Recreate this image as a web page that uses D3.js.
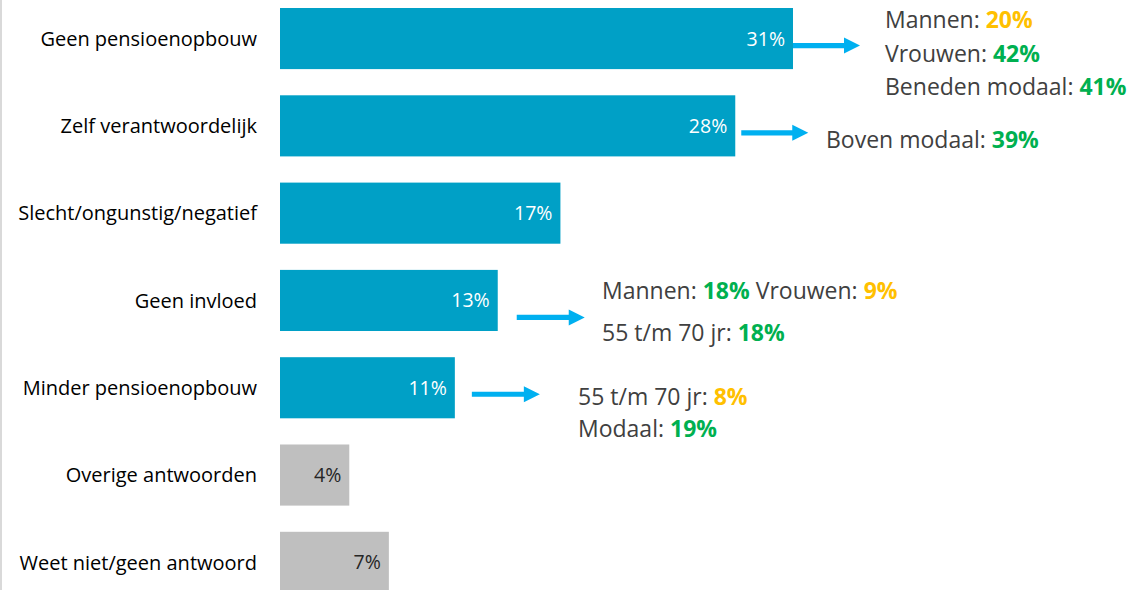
<!DOCTYPE html>
<html>
<head>
<meta charset="utf-8">
<script src="https://cdn.jsdelivr.net/npm/d3@7/dist/d3.min.js"></script>
<style>
  html, body { margin: 0; padding: 0; background: #fff; }
  svg { display: block; }
</style>
</head>
<body>
<script>
// ---- data ----
const categories = [
  "Geen pensioenopbouw",
  "Zelf verantwoordelijk",
  "Slecht/ongunstig/negatief",
  "Geen invloed",
  "Minder pensioenopbouw",
  "Overige antwoorden",
  "Weet niet/geen antwoord"
];
const values = [31.1, 27.6, 17.0, 13.2, 10.6, 4.2, 6.6];
const valueLabels = ["31%", "28%", "17%", "13%", "11%", "4%", "7%"];
const groups = ["main", "main", "main", "main", "main", "other", "other"];

// callout texts per category (segments: text, tone)
const calloutCategory = [0, 1, 3, 4];
const calloutLines = [
  [[["Mannen: ", "n"], ["20%", "lo"]], [["Vrouwen: ", "n"], ["42%", "hi"]], [["Beneden modaal: ", "n"], ["41%", "hi"]]],
  [[["Boven modaal: ", "n"], ["39%", "hi"]]],
  [[["Mannen: ", "n"], ["18%", "hi"], [" Vrouwen: ", "n"], ["9%", "lo"]], [["55 t/m 70 jr: ", "n"], ["18%", "hi"]]],
  [[["55 t/m 70 jr: ", "n"], ["8%", "lo"]], [["Modaal: ", "n"], ["19%", "hi"]]]
];

// ---- layout / style ----
const W = 1130, H = 590;
const colors = { main: "#00a0c6", other: "#bfbfbf" };
const labelColors = { main: "#ffffff", other: "#262626" };
const toneColor = { n: "#404040", lo: "#ffc000", hi: "#00b050" };
const arrowColor = "#00b0f0";
const calloutLayout = [
  { gap: 0, len: 67, dy: 0, tx: 885, base: [28, 62, 95] },
  { gap: 6, len: 67, dy: 0, tx: 826, base: [148] },
  { gap: 19, len: 68, dy: 10, tx: 602, base: [299, 341] },
  { gap: 17, len: 68, dy: -0.5, tx: 578, base: [405, 437] }
];

const svg = d3.select("body").append("svg").attr("width", W).attr("height", H);

svg.append("rect").attr("x", 0).attr("y", 0).attr("width", 2).attr("height", H).attr("fill", "#d9d9d9");

const x = d3.scaleLinear().domain([0, values[0]]).range([280, 793]);
const y = d3.scaleBand().domain(categories).range([8, 592.9]).paddingInner(0.3).paddingOuter(0);

svg.append("g").selectAll("rect").data(categories).join("rect")
  .attr("x", x(0))
  .attr("y", d => y(d))
  .attr("width", (d, i) => x(values[i]) - x(0))
  .attr("height", y.bandwidth())
  .attr("fill", (d, i) => colors[groups[i]]);

const yAxis = d3.axisLeft(y).tickSize(0).tickPadding(23);
const ax = svg.append("g").attr("transform", `translate(${x(0)},0)`).call(yAxis);
ax.select(".domain").remove();
ax.selectAll("text")
  .attr("font-family", "'Open Sans', 'Noto Sans', sans-serif")
  .attr("font-size", 20)
  .attr("fill", "#000")
  .attr("dy", "0.36em");

svg.append("g").selectAll("text").data(categories).join("text")
  .attr("x", (d, i) => x(values[i]) - 8)
  .attr("y", d => y(d) + y.bandwidth() / 2)
  .attr("dy", "0.36em")
  .attr("text-anchor", "end")
  .attr("font-family", "'Open Sans', 'Noto Sans', sans-serif")
  .attr("font-size", 19.5)
  .attr("fill", (d, i) => labelColors[groups[i]])
  .text((d, i) => valueLabels[i]);

calloutCategory.forEach((ci, k) => {
  const L = calloutLayout[k];
  const cat = categories[ci];
  const x0 = x(values[ci]) + L.gap;
  const yc = y(cat) + y.bandwidth() / 2 + 7 + L.dy;
  const x1 = x0 + L.len;
  const headLen = 16, headH = 8, shaft = 2.6;
  svg.append("path")
    .attr("d", `M${x0},${yc - shaft}L${x1 - headLen},${yc - shaft}L${x1 - headLen},${yc - headH}L${x1},${yc}L${x1 - headLen},${yc + headH}L${x1 - headLen},${yc + shaft}L${x0},${yc + shaft}Z`)
    .attr("fill", arrowColor);

  calloutLines[k].forEach((segs, li) => {
    const t = svg.append("text")
      .attr("x", L.tx)
      .attr("y", L.base[li])
      .attr("font-family", "'Open Sans', sans-serif")
      .attr("font-size", 23)
      .style("white-space", "pre");
    segs.forEach(([txt, tone]) => {
      t.append("tspan")
        .attr("fill", toneColor[tone])
        .attr("font-weight", tone === "n" ? 400 : 700)
        .text(txt);
    });
  });
});
</script>
</body>
</html>
